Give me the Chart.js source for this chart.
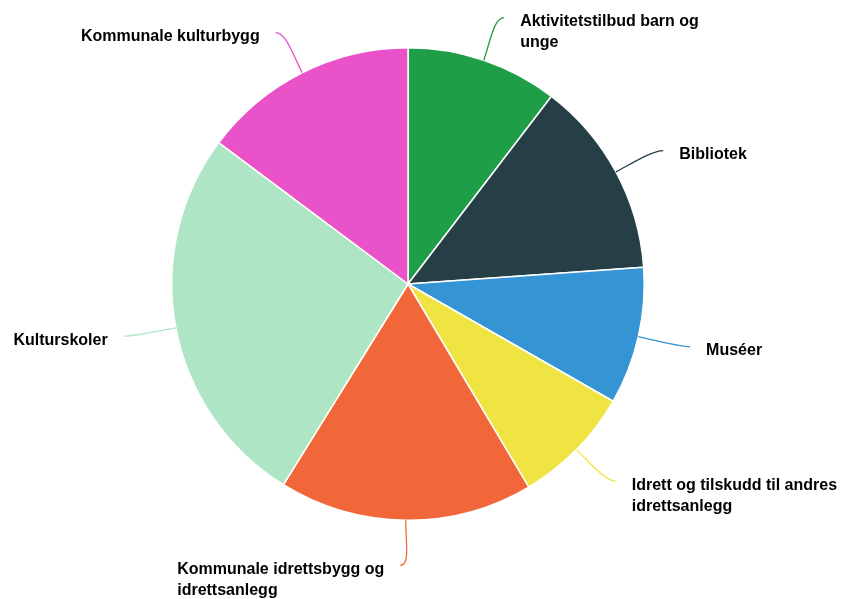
<!DOCTYPE html>
<html>
<head>
<meta charset="utf-8">
<script src="https://cdn.jsdelivr.net/npm/chart.js@4/dist/chart.umd.min.js"></script>
<style>
  body { margin: 0; background: #fff; }
  #wrap { width: 843px; height: 599px; }
</style>
</head>
<body>
<div id="wrap"><canvas id="pie-chart" width="843" height="599"></canvas></div>
<script>
// categories and shares (percent), clockwise from 12 o'clock
const categories = [
    'Aktivitetstilbud barn og unge',
    'Bibliotek',
    'Muséer',
    'Idrett og tilskudd til andres idrettsanlegg',
    'Kommunale idrettsbygg og idrettsanlegg',
    'Kulturskoler',
    'Kommunale kulturbygg'
];
const shares = [10.4, 13.5, 9.4, 8.2, 17.4, 26.4, 14.8];
const sliceColors = ['#1f9e48', '#263f47', '#3494d4', '#f0e442', '#f26739', '#aee5c4', '#ea52c9'];

// wrap label text to a max width
function wrapText(ctx, text, maxWidth) {
    const words = text.split(' ');
    const lines = [];
    let line = '';
    words.forEach(w => {
        const test = line ? line + ' ' + w : w;
        if (ctx.measureText(test).width > maxWidth && line) {
            lines.push(line);
            line = w;
        } else {
            line = test;
        }
    });
    if (line) lines.push(line);
    return lines;
}

// outside labels with curved connectors, highcharts style
const outsideLabels = {
    id: 'outsideLabels',
    afterDatasetsDraw(chart) {
        const ctx = chart.ctx;
        const meta = chart.getDatasetMeta(0);
        ctx.save();
        ctx.font = 'bold 16px "Liberation Sans", Arial, sans-serif';
        ctx.textBaseline = 'middle';
        ctx.textAlign = 'left';
        meta.data.forEach((arc, i) => {
            const p = arc.getProps(['x', 'y', 'startAngle', 'endAngle', 'outerRadius'], true);
            const mid = (p.startAngle + p.endAngle) / 2;
            const dx = Math.cos(mid), dy = Math.sin(mid);
            const r = p.outerRadius;
            const right = dx > 0;
            const sign = right ? 1 : -1;
            const sx = p.x + r * dx, sy = p.y + r * dy;
            const ex = p.x + (r + 48) * dx + sign * 5;
            const ey = p.y + (r + 45) * dy;

            ctx.strokeStyle = sliceColors[i];
            ctx.lineWidth = 1.3;
            ctx.beginPath();
            ctx.moveTo(sx, sy);
            ctx.bezierCurveTo(sx + 22 * dx, sy + 22 * dy, ex - sign * 10, ey, ex, ey);
            ctx.stroke();

            ctx.fillStyle = '#000';
            const lines = wrapText(ctx, categories[i], 212);
            const blockW = Math.max(...lines.map(l => ctx.measureText(l).width));
            const tx = right ? ex + 16 : ex - 16 - blockW;
            lines.forEach((ln, k) => {
                ctx.fillText(ln, tx, ey + 4 + k * 21);
            });
        });
        ctx.restore();
    }
};

function createPieChart() {
    const ctx = document.getElementById('pie-chart').getContext('2d');
    new Chart(ctx, {
        type: 'pie',
        data: {
            labels: categories,
            datasets: [{
                data: shares,
                backgroundColor: sliceColors,
                borderColor: '#ffffff',
                borderWidth: 1.5
            }]
        },
        options: {
            responsive: false,
            animation: false,
            layout: { padding: { top: 47, bottom: 78, left: 100, right: 127 } },
            plugins: {
                legend: { display: false },
                tooltip: { enabled: false }
            }
        },
        plugins: [outsideLabels]
    });
}
createPieChart();
</script>
</body>
</html>
